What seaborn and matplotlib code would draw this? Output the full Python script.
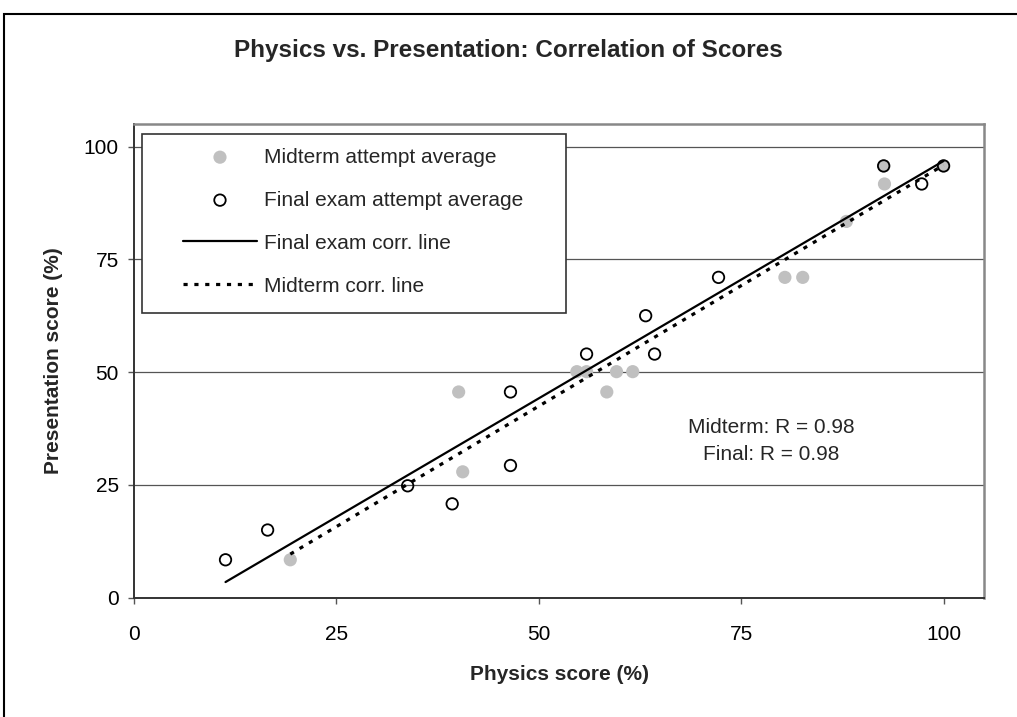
import matplotlib
matplotlib.use("Agg")
import matplotlib.pyplot as plt
from matplotlib.patches import Rectangle
import seaborn as sns
import numpy as np

# data
mid_physics = [19.3, 40.1, 40.6, 54.7, 55.9, 59.6, 61.6, 58.4, 80.4, 82.6, 88.0, 92.7, 92.6, 100.0]
mid_present = [8.4, 45.6, 27.9, 50.1, 50.1, 50.1, 50.1, 45.6, 71.0, 71.0, 83.4, 91.7, 95.7, 95.7]

fin_physics = [11.3, 16.5, 33.8, 39.3, 46.5, 46.5, 55.9, 64.3, 63.2, 72.2, 92.6, 97.3, 100.0]
fin_present = [8.4, 15.0, 24.8, 20.8, 45.6, 29.3, 54.0, 54.0, 62.5, 71.0, 95.7, 91.7, 95.7]

ticks = [0, 25, 50, 75, 100]
r_text = "Midterm: R = 0.98\nFinal: R = 0.98"

sns.set_style("white")
plt.rcParams["font.family"] = ["Liberation Sans", "DejaVu Sans"]

fig = plt.figure(figsize=(10.17, 7.17), dpi=100)
ax = fig.add_axes([0.1318, 0.1664, 0.8358, 0.6607])

# points
sns.scatterplot(x=mid_physics, y=mid_present, ax=ax, color="#C0C0C0", s=90,
                edgecolor="none", label="Midterm attempt average", zorder=3)
sns.scatterplot(x=fin_physics, y=fin_present, ax=ax, facecolor="none", s=68,
                edgecolor="black", linewidth=1.3, label="Final exam attempt average", zorder=4)

# trend lines (least squares over each series' range)
sns.regplot(x=np.array(fin_physics), y=np.array(fin_present), ax=ax, scatter=False, ci=None,
            truncate=True, label="Final exam corr. line",
            line_kws=dict(color="black", lw=1.6, zorder=5))
sns.regplot(x=np.array(mid_physics), y=np.array(mid_present), ax=ax, scatter=False, ci=None,
            truncate=True, label="Midterm corr. line",
            line_kws=dict(color="black", lw=2.3, ls=(0, (1.3, 2.1)), zorder=5))

ax.set_xlim(0, 105)
ax.set_ylim(0, 105)
ax.set_xticks(ticks)
ax.set_yticks(ticks)
ax.set_axisbelow(True)
ax.yaxis.grid(True, color="#555555", lw=0.9)
ax.xaxis.grid(False)

for side in ["left", "bottom"]:
    ax.spines[side].set_color("#333333")
    ax.spines[side].set_linewidth(1.4)
for side in ["top", "right"]:
    ax.spines[side].set_color("#888888")
    ax.spines[side].set_linewidth(1.8)

ax.tick_params(axis="both", direction="out", length=4.5, width=1, color="#555555",
               labelsize=15, labelcolor="black")
ax.tick_params(axis="x", pad=15)
ax.tick_params(axis="y", pad=6.5)
ax.tick_params(left=True, bottom=True)

ax.set_xlabel("Physics score (%)", fontsize=15, fontweight="bold", labelpad=15)
ax.set_ylabel("Presentation score (%)", fontsize=15, fontweight="bold", labelpad=15)

ax.text(78.7, 34.7, r_text, fontsize=15, ha="center", va="center",
        multialignment="center", linespacing=1.5)

# legend box with a plain square frame
ax.add_patch(Rectangle((0.009, 0.601), 0.499, 0.378, transform=ax.transAxes,
                       facecolor="white", edgecolor="#333333", lw=1.2, zorder=6))
handles, labels = ax.get_legend_handles_labels()
order = ["Midterm attempt average", "Final exam attempt average",
         "Final exam corr. line", "Midterm corr. line"]
hmap = dict(zip(labels, handles))
leg = ax.legend([hmap[k] for k in order], order, loc="upper left",
                bbox_to_anchor=(0.0576, 0.95), frameon=False, fontsize=15,
                borderpad=0, borderaxespad=0, handlelength=3.55, handletextpad=0.35,
                labelspacing=1.15)
leg.set_zorder(7)

fig.text(0.5, 1 - 51 / 717, "Physics vs. Presentation: Correlation of Scores",
         fontsize=17.5, fontweight="bold", ha="center", va="center")

# outer chart border (top and left edges visible)
fig.add_artist(Rectangle((4 / 1017, -0.1), 1.2, 1.1 - 14 / 717, transform=fig.transFigure,
                         fill=False, edgecolor="black", lw=1.5))

fig.savefig("out.png", dpi=100)
